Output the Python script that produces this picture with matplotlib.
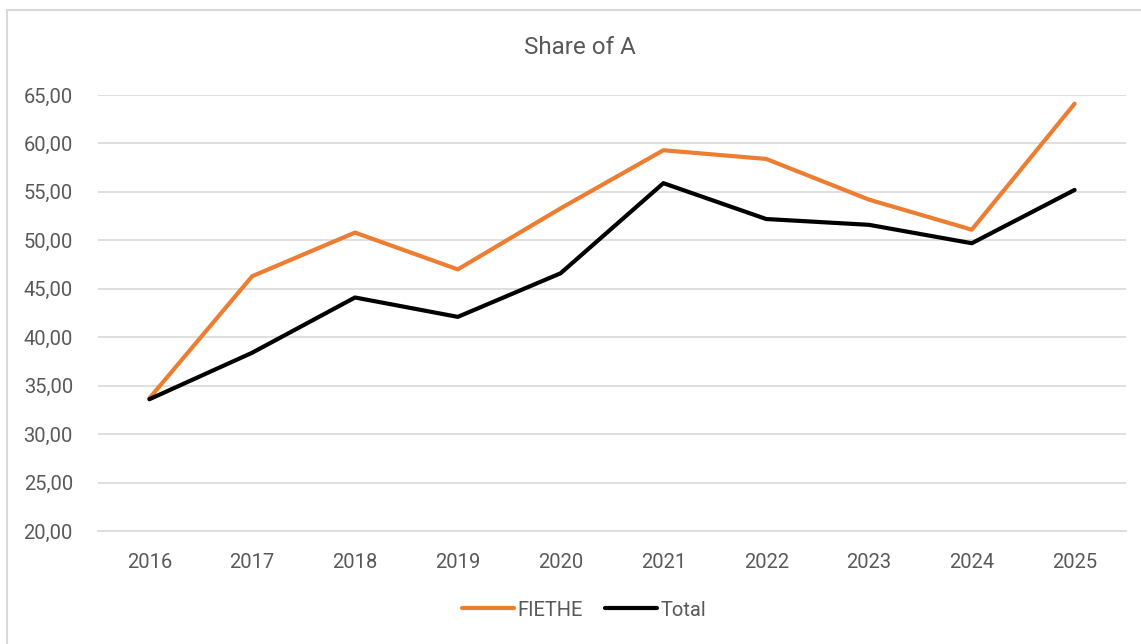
import matplotlib.pyplot as plt
from matplotlib.ticker import FuncFormatter
from matplotlib.patches import Rectangle

plt.rcParams['font.family'] = ['Roboto', 'DejaVu Sans']

# data
years = ['2016', '2017', '2018', '2019', '2020', '2021', '2022', '2023', '2024', '2025']
fiethe = [33.7, 46.3, 50.8, 47.0, 53.3, 59.3, 58.4, 54.2, 51.1, 64.1]
total = [33.6, 38.4, 44.1, 42.1, 46.6, 55.9, 52.2, 51.6, 49.7, 55.2]

W, H = 1141, 644
fig = plt.figure(figsize=(W / 100, H / 100), dpi=100)
ax = fig.add_axes([98 / W, 1 - 531 / H, (1126 - 98) / W, (531 - 95) / H])

# outer chart border (only left/top visible in the crop)
fig.patches.append(Rectangle((7 / W, -0.1), 1.2, 1 - 10 / H + 0.1, transform=fig.transFigure,
                             fill=False, edgecolor='#d9d9d9', linewidth=1.5))

x = range(len(years))
ax.plot(x, fiethe, color='#ed7d31', linewidth=3, solid_capstyle='round', label='FIETHE')
ax.plot(x, total, color='black', linewidth=3, solid_capstyle='round', label='Total')

ax.set_xlim(-0.5, len(years) - 0.5)
ax.set_ylim(20, 65)
ax.set_yticks(range(20, 66, 5))
ax.yaxis.set_major_formatter(FuncFormatter(lambda v, p: f'{v:.2f}'.replace('.', ',')))
ax.set_xticks(list(x))
ax.set_xticklabels(years)
ax.grid(axis='y', color='#d9d9d9', linewidth=1.2)
ax.set_axisbelow(True)
for s in ['top', 'right', 'left']:
    ax.spines[s].set_visible(False)
ax.spines['bottom'].set_color('#d9d9d9')
ax.spines['bottom'].set_linewidth(1.2)
ax.tick_params(axis='both', length=0, labelsize=14.5, colors='#595959')
ax.tick_params(axis='y', pad=18)
ax.tick_params(axis='x', pad=16)

fig.text(580 / W, 1 - 47 / H, 'Share of A', ha='center', va='center', fontsize=17.5, color='#595959')

leg = fig.legend(loc='center', bbox_to_anchor=(584 / W, 1 - 610 / H), ncol=2, frameon=False,
                 fontsize=14.5, handlelength=2.6, handletextpad=0.15, columnspacing=1.1)
for t in leg.get_texts():
    t.set_color('#595959')

fig.savefig('out.png', dpi=100)
